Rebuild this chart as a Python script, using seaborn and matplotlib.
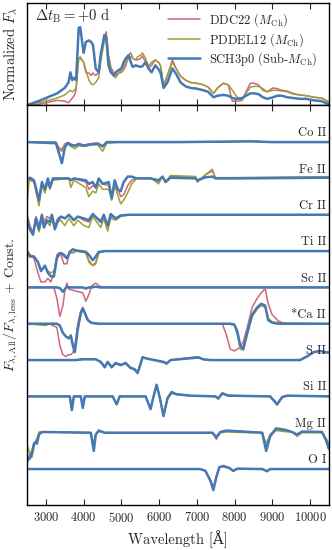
import matplotlib
matplotlib.use("Agg")
import matplotlib.pyplot as plt
import pandas as pd
import seaborn as sns

models = ["DDC22", "PDDEL12", "SCH3p0"]
labels = [r"DDC22 ($M_{\rm Ch}$)", r"PDDEL12 ($M_{\rm Ch}$)", r"SCH3p0 (Sub-$M_{\rm Ch}$)"]
colors = ["#D0657B", "#A09E35", "#4479B4"]
widths = [1.1, 1.1, 1.8]

# top panel: normalized flux at +0 d
wave_top = [2500, 2800, 3000, 3300, 3500, 3600, 3650, 3700, 3750, 3800,
            3870, 3910, 4000, 4060, 4140, 4200, 4250, 4320, 4400, 4450,
            4550, 4600, 4660, 4720, 4800, 4850, 4930, 5000, 5060, 5120,
            5190, 5250, 5300, 5380, 5430, 5510, 5560, 5640, 5720, 5800,
            5900, 6000, 6040, 6120, 6220, 6350, 6450, 6570, 6700, 6830,
            7000, 7170, 7300, 7440, 7550, 7700, 7830, 7940, 8070, 8200,
            8300, 8420, 8520, 8630, 8750, 8860, 9020, 9130, 9250, 9390,
            9550, 9730, 9900, 10100, 10300, 10500]
flux_ddc = [0, .01, .03, .06, .05, .03, .06, .09, .12, .19,
            .60, .60, .55, .42, .41, .38, .41, .38, .42, .60,
            .86, .94, .64, .49, .41, .38, .41, .42, .45, .51,
            .64, .67, .60, .58, .58, .60, .63, .55, .47, .51,
            .58, .54, .50, .23, .38, .58, .47, .37, .32, .29,
            .28, .26, .23, .15, .22, .28, .26, .05, .05, .06,
            .17, .28, .28, .26, .19, .17, .22, .21, .19, .18,
            .15, .13, .12, .10, .09, .04]
flux_pdd = [0, .03, .05, .09, .13, .17, .19, .17, .19, .22,
            .60, .62, .55, .45, .32, .27, .26, .29, .35, .55,
            .83, .90, .60, .45, .37, .35, .41, .45, .49, .55,
            .60, .62, .60, .58, .62, .64, .67, .60, .50, .55,
            .58, .54, .50, .26, .38, .55, .47, .37, .32, .29,
            .28, .26, .23, .15, .22, .28, .26, .19, .10, .06,
            .15, .23, .24, .24, .21, .17, .19, .19, .18, .17,
            .14, .13, .12, .10, .09, .04]
flux_sch = [0, .05, .09, .15, .22, .29, .42, .32, .35, .32,
            .99, 1.0, .67, .81, .83, .81, .77, .47, .42, .64,
            .90, .86, .51, .42, .38, .42, .45, .47, .55, .60,
            .64, .55, .49, .51, .50, .49, .50, .55, .47, .42,
            .51, .45, .41, .22, .29, .47, .40, .29, .24, .22,
            .21, .19, .17, .10, .12, .13, .12, .09, .08, .09,
            .12, .15, .15, .14, .10, .08, .10, .12, .12, .10,
            .09, .08, .08, .06, .05, .01]

# bottom panel: F_all / F_less for each ion
co_wave = [2500, 3266, 3345, 3424, 3503, 3582, 3662, 3767, 3873, 4005,
           4190, 4374, 4506, 4612, 4982, 6500, 7400, 8414, 9000, 10500]
co_ddc = [1, 1, .85, .80, .95, .98, .95, .90, .95, .92, .96, .97, .90, 1, 1, 1.01, 1.0, 1.02, 1.0, 1.0]
co_pdd = [1, 1, .80, .75, .92, .95, .88, .82, .90, .88, .92, .92, .75, .97, 1, 1.01, 1.0, 1.03, 1.0, 1.0]
co_sch = [1, .97, .70, .42, .85, .98, .92, .90, .95, .90, .94, .96, .88, 1, 1, 1.0, 1.01, 1.02, 1.0, 1.0]

fe_wave = [2500, 2553, 2579, 2685, 2817, 2896, 2975, 3054, 3107, 3186,
           3609, 3662, 3741, 4058, 4137, 4242, 4322, 4401, 4506, 4665,
           4744, 4823, 4902, 4982, 5061, 5166, 5272, 5404, 5774, 5985,
           6090, 6170, 6302, 6962, 7014, 7226, 7410, 7490, 8018, 10500]
fe_ddc = [1, .95, .95, .90, .45, .90, .70, .95, .80, 1,
          1, .95, 1, .90, .70, .80, .75, .95, .85, .80,
          .45, .90, .70, .50, .55, .80, .95, 1, 1, .90,
          1.05, .90, 1.05, 1.05, .90, 1.10, 1.25, 1.02, 1.02, 1.03]
fe_pdd = [.30, .90, 1, .90, .25, .80, .60, .90, .70, .95,
          1, .75, .95, .75, .50, .65, .60, .85, .70, .70,
          .40, .80, .55, .30, .40, .60, .85, 1, 1.02, .85,
          1.05, .90, 1.08, 1.05, .90, 1.10, 1.20, 1.02, 1.02, 1.05]
fe_sch = [1, 1, 1.02, .95, .40, .90, .70, 1, .75, 1,
          1, .95, 1, .95, .85, .90, .75, 1, .85, .90,
          .45, .95, .70, .65, .90, 1.05, 1.05, 1, 1, .95,
          1.05, .90, 1.02, 1.0, .95, 1.03, 1.05, 1.0, 1.0, 1.02]

cr_wave = [2500, 2579, 2658, 2738, 2817, 2896, 2949, 3028, 3107, 3160,
           3239, 3318, 3398, 3503, 3609, 3741, 3846, 4005, 4137, 4242,
           4454, 4533, 4638, 4718, 4850, 4982, 5193, 10500]
cr_ddc = [1, .70, .50, .95, .70, 1, .80, .95, .90, 1,
          .70, .90, .95, .90, .98, .85, .95, .85, .80, 1,
          .85, .95, .70, .95, .90, .98, 1, 1]
cr_pdd = [1, .60, .45, .85, .53, .90, .65, .80, .70, .90,
          .60, .80, .85, .70, .90, .70, .85, .70, .65, .95,
          .65, .90, .55, .90, .85, .95, 1, 1]
cr_sch = [.90, .60, .45, .90, .60, 1, .65, .85, .80, 1,
          .60, .85, .95, .90, 1, .85, .95, .90, .85, 1.02,
          .80, 1, .70, 1.02, .90, .98, 1, 1]

ti_wave = [2500, 2579, 2685, 2790, 2870, 2975, 3054, 3134, 3213, 3292,
           3345, 3398, 3477, 3556, 3635, 3714, 3794, 4058, 4137, 4242,
           4322, 4401, 4559, 10500]
ti_ddc = [1, .90, .80, .40, .15, .15, .25, .15, .40, .90,
          .95, .90, .65, .65, 1, .95, 1, .98, .75, .60,
          .65, .95, 1, 1]
ti_pdd = [1, .90, .85, .70, .50, .55, .45, .40, .45, .80,
          .90, .95, .85, .80, .95, .95, 1, .95, .70, .60,
          .70, .95, 1, 1]
ti_sch = [1, .85, .85, .70, .45, .60, .40, .30, .30, .80,
          .90, .95, .90, .80, .98, 1.05, 1.02, .98, .90, .75,
          .85, .98, 1, 1]

sc_wave = [2500, 3213, 3292, 3371, 3450, 3503, 3556, 3609, 3978, 4058,
           4137, 4216, 4322, 4427, 4612, 10500]
sc_ddc = [1, 1, .70, .20, .50, .90, 1.12, .95, .85, .62, .80, 1.05, 1.12, 1.03, 1, 1]
sc_pdd = [1, 1, 1, .98, .90, .95, 1.02, 1, 1, .97, 1, 1, 1.02, 1, 1, 1]
sc_sch = [1, 1, 1, .98, .88, .95, 1.02, 1, 1, .97, 1, 1, 1.02, 1, 1, 1]

ca_wave = [2500, 3002, 3081, 3292, 3371, 3450, 3530, 3609, 3662, 3714,
           3767, 3846, 3926, 3978, 4031, 4110, 4216, 4427, 7674, 7780,
           7886, 7991, 8070, 8150, 8229, 8334, 8466, 8598, 8704, 8810,
           8889, 8994, 9153, 9338, 10500]
ca_ddc = [1, 1, 1, .90, .40, .15, .10, .15, .15, .20,
          .40, 1, 1.35, 1.45, 1.30, 1.10, 1.02, 1, 1, .70,
          .30, .25, .30, .35, .50, .90, 1.45, 1.70, 1.85, 1.97,
          1.55, 1.25, 1.08, 1, 1]
ca_pdd = [1, .95, 1, 1, .95, .75, .65, .60, .70, .45,
          .25, .90, 1.25, 1.38, 1.30, 1.10, 1.02, 1, 1, 1,
          .98, .97, .70, .30, .28, .70, 1.20, 1.40, 1.50, 1.45,
          1.15, 1.05, 1.03, 1.02, 1]
ca_sch = [1, 1, 1, 1, .95, .75, .65, .60, .67, .40,
          .22, .85, 1.30, 1.42, 1.30, 1.10, 1.02, 1, 1, 1,
          1, .98, .80, .40, .30, .75, 1.25, 1.45, 1.55, 1.50,
          1.10, 1.03, 1, 1, 1]

s_wave = [2500, 3794, 3978, 4322, 4454, 4559, 4638, 4744, 4850, 4982,
          5114, 5246, 5351, 5430, 5510, 5562, 5642, 5774, 6117, 6196,
          6302, 6830, 7041, 7173, 7358, 9734, 9918, 10102, 10262, 10500]
s_ddc = [1, 1, 1.03, 1.02, .95, .83, .95, .82, .92, .88,
         .92, .80, .75, .68, .90, 1.08, 1.05, 1.02, .95, .92,
         1, 1.06, 1.08, 1.02, 1, 1, 1.1, 1.22, 1.25, 1.2]
s_pdd = [1, 1, 1.03, 1.03, .93, .82, .93, .80, .90, .85,
         .90, .78, .72, .66, .90, 1.08, 1.05, 1.02, .93, .90,
         1, 1.07, 1.09, 1.02, 1, 1, 1.1, 1.22, 1.25, 1.22]
s_sch = [1, 1, 1.02, 1.02, .95, .80, .95, .80, .92, .86,
         .92, .78, .75, .64, .90, 1.08, 1.05, 1.02, .95, .90,
         1, 1.05, 1.07, 1.02, 1, 1, 1.1, 1.22, 1.25, 1.2]

si_wave = [2500, 3635, 3688, 3741, 3926, 3978, 4031, 4770, 4876, 4955,
           5642, 5774, 5853, 5932, 6011, 6117, 6222, 6328, 6460, 6830,
           7490, 7569, 7674, 7833, 8942, 9047, 9126, 9258, 9390, 10500]
si_ddc = [1, 1, .65, 1, 1, .70, 1, 1, .80, 1,
          1, .65, 1, 1.30, 1, .48, .95, 1.12, 1.06, 1.02,
          1, .93, 1.08, 1.02, 1, .88, .78, .98, 1.02, 1]
si_pdd = [1, 1, .65, 1, 1, .70, 1, 1, .80, 1,
          1, .67, 1, 1.28, 1, .50, .92, 1.08, 1.05, 1.02,
          1, .92, 1.10, 1.03, 1, .86, .76, .98, 1.02, 1]
si_sch = [1, 1, .62, 1, 1, .68, 1, 1, .78, 1,
          1, .65, 1, 1.32, 1, .46, .95, 1.12, 1.06, 1.02,
          1, .95, 1.08, 1.02, 1, .88, .78, .98, 1.02, 1]

mg_wave = [2500, 2579, 2632, 2685, 2738, 2764, 2817, 2896, 4190, 4269,
           4322, 4401, 4559, 7410, 7516, 7622, 7780, 8414, 8730, 8836,
           8942, 9100, 9338, 9522, 9654, 9786, 10314, 10420, 10500]
mg_ddc = [.25, .40, .50, .70, .75, .70, 1, 1.02, 1, .70,
          .95, 1.05, 1, 1, .82, 1.02, 1.05, 1.02, 1, .65,
          .95, 1.08, 1.05, 1.02, .95, 1.02, 1.02, .80, .65]
mg_pdd = [.70, .40, .32, .60, .80, .85, 1.02, 1.02, 1, .70,
          .95, 1.04, 1, 1, .85, 1, 1.02, 1, 1, .70,
          .95, 1.06, 1.03, 1.02, .90, 1, 1, .85, .70]
mg_sch = [.22, .30, .45, .70, .75, .70, .95, 1.02, 1, .50,
          .95, 1.06, 1, 1, .88, 1.02, 1.06, 1.02, 1, .50,
          .90, 1.12, 1.08, 1.02, .95, 1.03, 1.02, .80, .55]

o_wave = [2500, 7094, 7226, 7358, 7437, 7516, 7595, 7701, 7859, 7965,
          8070, 8730, 8862, 8942, 10500]
o_ddc = [1, 1, .95, .70, .48, .80, 1.05, 1.10, 1.03, .96, 1.01, 1, .94, 1, 1]
o_pdd = [1, 1, .95, .70, .48, .80, 1.04, 1.07, 1.03, .94, 1.01, 1, .94, 1, 1]
o_sch = [1, 1, .95, .68, .42, .78, 1.05, 1.08, 1.03, .95, 1.01, 1, .94, 1, 1]

ion_names = ["Co II", "Fe II", "Cr II", "Ti II", "Sc II", "*Ca II", "S II", "Si II", "Mg II", "O I"]
ion_waves = [co_wave, fe_wave, cr_wave, ti_wave, sc_wave, ca_wave, s_wave, si_wave, mg_wave, o_wave]
ion_ratios = [(co_ddc, co_pdd, co_sch), (fe_ddc, fe_pdd, fe_sch), (cr_ddc, cr_pdd, cr_sch),
              (ti_ddc, ti_pdd, ti_sch), (sc_ddc, sc_pdd, sc_sch), (ca_ddc, ca_pdd, ca_sch),
              (s_ddc, s_pdd, s_sch), (si_ddc, si_pdd, si_sch), (mg_ddc, mg_pdd, mg_sch),
              (o_ddc, o_pdd, o_sch)]

sns.set_style("ticks")
plt.rcParams["font.family"] = ["cmr10", "DejaVu Serif"]
plt.rcParams["mathtext.fontset"] = "cm"
plt.rcParams["axes.unicode_minus"] = False
plt.rcParams["axes.formatter.use_mathtext"] = True

fig = plt.figure(figsize=(3.32, 5.5), dpi=100)
ax_top = fig.add_axes([0.0813, 0.809, 0.9096, 0.1855])
ax_bot = fig.add_axes([0.0813, 0.0818, 0.9096, 0.7272])

# top spectra
top_df = pd.DataFrame({"wave": wave_top * 3,
                       "flux": flux_ddc + flux_pdd + flux_sch,
                       "model": [m for m in models for _ in wave_top]})
for m, lab, c, lw in zip(models, labels, colors, widths):
    sns.lineplot(data=top_df[top_df["model"] == m], x="wave", y="flux", ax=ax_top,
                 color=c, lw=lw, label=lab, estimator=None, sort=False)

ax_top.text(0.025, 0.97, r"$\Delta t_{\rm B} = +0$ d", transform=ax_top.transAxes,
            ha="left", va="top", fontsize=10.5)
ax_top.legend(loc="upper right", bbox_to_anchor=(1.0, 1.03), frameon=False, fontsize=9,
              handlelength=2.6, handletextpad=0.7, labelspacing=0.15)
ax_top.set_ylim(0, 1.31)
ax_top.set_ylabel(r"Normalized $F_\lambda$", fontsize=10.5, labelpad=5)
ax_top.set_xlabel("")
ax_top.tick_params(labelbottom=False)

# ion contribution panel, stacked with constant offsets
n_ion = len(ion_names)
for i, (name, wave, ratios) in enumerate(zip(ion_names, ion_waves, ion_ratios)):
    offset = n_ion - 1 - i
    ion_df = pd.DataFrame({"wave": wave * 3,
                           "ratio": [r - 1 + offset for r3 in ratios for r in r3],
                           "model": [m for m in models for _ in wave]})
    for m, c, lw in zip(models, colors, widths):
        sns.lineplot(data=ion_df[ion_df["model"] == m], x="wave", y="ratio", ax=ax_bot,
                     color=c, lw=lw, estimator=None, sort=False, legend=False)
    ax_bot.text(10420, offset + 0.08, name, ha="right", va="bottom", fontsize=9)

ax_bot.set_ylim(-0.99, 10.02)
ax_bot.set_xlabel(r"Wavelength [Å]", fontsize=10.5)
ax_bot.set_ylabel(r"$F_{\lambda,\rm All}/F_{\lambda,\rm less}$ + Const.", fontsize=10, labelpad=5)

for ax in (ax_top, ax_bot):
    ax.set_xlim(2500, 10500)
    ax.set_xticks([3000, 4000, 5000, 6000, 7000, 8000, 9000, 10000])
    ax.set_yticks([])
    ax.tick_params(axis="x", direction="in", top=True, length=4, width=0.8, labelsize=9, pad=4)
    for sp in ax.spines.values():
        sp.set_color("black")
        sp.set_linewidth(1.0)

fig.align_ylabels([ax_top, ax_bot])
fig.savefig("out.png", dpi=100)
